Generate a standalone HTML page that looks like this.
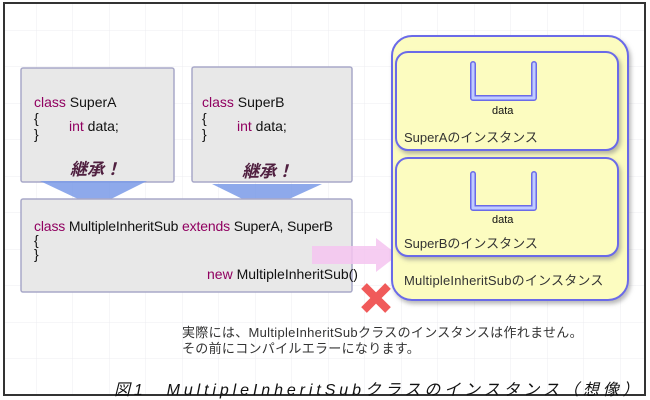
<!DOCTYPE html><html><head><meta charset="utf-8"><style>
body{margin:0;width:650px;height:400px;overflow:hidden;background:#fff;font-family:"Liberation Sans","Noto Sans CJK JP",sans-serif}
.t{position:absolute;white-space:nowrap}
</style></head><body>
<svg width="650" height="400" style="position:absolute;left:0;top:0">
<defs><pattern id="g" width="36.5" height="36.5" patternUnits="userSpaceOnUse" x="0" y="-6"><path d="M36.5 0V36.5M0 36.5H36.5" stroke="#ececf0" stroke-width="1" fill="none"/></pattern>
<filter id="s"><feDropShadow dx="2" dy="3" stdDeviation="2" flood-color="#888" flood-opacity="0.6"/></filter></defs>
<rect x="4" y="3" width="641" height="392" fill="url(#g)" stroke="#333" stroke-width="2"/>
<rect x="21" y="68" width="153" height="114" rx="2" fill="#e8e8e8" stroke="#a8a8c8" stroke-width="1.5"/>
<rect x="192" y="67" width="160" height="115" rx="2" fill="#e8e8e8" stroke="#a8a8c8" stroke-width="1.5"/>
<polygon points="40,181 147,181 95,207" fill="#7a9ae8" opacity="0.85"/>
<polygon points="212,184 322,184 265,210" fill="#7a9ae8" opacity="0.85"/>
<rect x="21" y="199" width="331" height="93" rx="2" fill="#e8e8e8" stroke="#a8a8c8" stroke-width="1.5"/>
<polygon points="312,246 376,246 376,238 398,255 376,272 376,264 312,264" fill="#f4c4f0" opacity="0.85"/>
<rect x="392" y="36" width="236" height="264" rx="20" fill="#fcfcc0" stroke="#6a6ae8" stroke-width="2" filter="url(#s)"/>
<rect x="396" y="52" width="222" height="98" rx="12" fill="#fcfcc0" stroke="#6a6ae8" stroke-width="2" filter="url(#s)"/>
<rect x="396" y="158" width="222" height="98" rx="12" fill="#fcfcc0" stroke="#6a6ae8" stroke-width="2" filter="url(#s)"/>
<path d="M473 64V98H534V64" fill="none" stroke="#6a6ae8" stroke-width="6" stroke-linejoin="round" stroke-linecap="round"/>
<path d="M473 64V98H534V64" fill="none" stroke="#c0ccff" stroke-width="3" stroke-linejoin="round" stroke-linecap="round"/>
<path d="M473 174V208H534V174" fill="none" stroke="#6a6ae8" stroke-width="6" stroke-linejoin="round" stroke-linecap="round"/>
<path d="M473 174V208H534V174" fill="none" stroke="#c0ccff" stroke-width="3" stroke-linejoin="round" stroke-linecap="round"/>
<path d="M364 286L388 310M388 286L364 310" stroke="#f05a5a" stroke-width="8"/>
</svg>
<div class="t" style="left:34px;top:94px;font-size:14px;line-height:16px;color:#111"><span style="color:#900060">class</span> SuperA<br>{<br>}</div>
<div class="t" style="left:69px;top:118px;font-size:14px;color:#111"><span style="color:#900060">int</span> data;</div>
<div class="t" style="left:202px;top:94px;font-size:14px;line-height:16px;color:#111"><span style="color:#900060">class</span> SuperB<br>{<br>}</div>
<div class="t" style="left:237px;top:118px;font-size:14px;color:#111"><span style="color:#900060">int</span> data;</div>
<div class="t" style="left:70px;top:155px;font-size:17px;font-weight:bold;font-style:italic;color:#502040">継承！</div>
<div class="t" style="left:242px;top:157px;font-size:17px;font-weight:bold;font-style:italic;color:#502040">継承！</div>
<div class="t" style="left:34px;top:219px;font-size:14px;line-height:14px;color:#111;letter-spacing:-0.15px"><span style="color:#900060">class</span> MultipleInheritSub <span style="color:#900060">extends</span> SuperA, SuperB<br>{<br>}</div>
<div class="t" style="left:207px;top:266px;font-size:14px;color:#111"><span style="color:#900060">new</span> MultipleInheritSub()</div>
<div class="t" style="left:492px;top:105px;font-size:11px;color:#111">data</div>
<div class="t" style="left:492px;top:214px;font-size:11px;color:#111">data</div>
<div class="t" style="left:404px;top:127px;font-size:13px;color:#333">SuperAのインスタンス</div>
<div class="t" style="left:404px;top:233px;font-size:13px;color:#333">SuperBのインスタンス</div>
<div class="t" style="left:404px;top:270px;font-size:13px;color:#333;letter-spacing:0.2px">MultipleInheritSubのインスタンス</div>
<div class="t" style="left:182px;top:325px;font-size:13px;line-height:16px;color:#333;letter-spacing:0.3px">実際には、MultipleInheritSubクラスのインスタンスは作れません。<br>その前にコンパイルエラーになります。</div>
<div class="t" style="left:114px;top:376px;font-size:16px;font-style:italic;color:#111;letter-spacing:3.9px">図1　MultipleInheritSubクラスのインスタンス（想像）</div>
</body></html>
